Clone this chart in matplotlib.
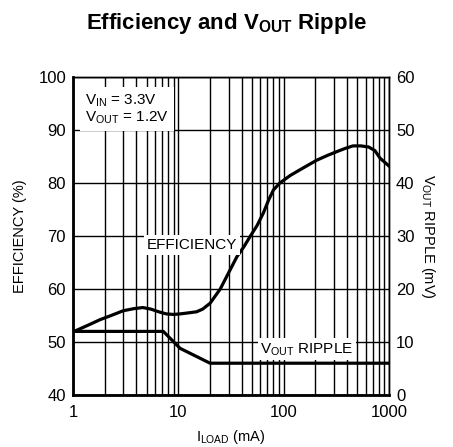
import numpy as np
import matplotlib
matplotlib.use('Agg')
from matplotlib import pyplot as plt
from matplotlib.ticker import FixedLocator, NullFormatter, FixedFormatter

FONT = 'Liberation Sans'
plt.rcParams['font.family'] = [FONT, 'DejaVu Sans']
plt.rcParams['mathtext.fontset'] = 'custom'
plt.rcParams['mathtext.rm'] = FONT
plt.rcParams['mathtext.bf'] = FONT + ':bold'
plt.rcParams['mathtext.it'] = FONT + ':italic'

# efficiency curve (%) vs load current (mA)
eff_load = [1, 1.4, 1.8, 2.3, 3.0, 3.8, 4.6, 5.5, 6.5, 7.7, 9.0, 10.4, 12.5, 14.9, 17, 20, 25,
            31, 36, 42, 48, 56, 64, 72, 80, 92, 115, 143, 175, 206, 260, 318, 380, 455, 540,
            640, 736, 821, 1000]
eff_pct = [51.9, 53.2, 54.2, 55.0, 55.9, 56.3, 56.5, 56.2, 55.7, 55.3, 55.2, 55.3, 55.5, 55.7,
           56.2, 57.3, 60.0, 63.6, 66.1, 68.0, 69.9, 72.0, 74.3, 76.8, 78.7, 80.0, 81.4, 82.5,
           83.5, 84.3, 85.2, 85.9, 86.5, 87.0, 87.0, 86.8, 86.1, 84.7, 83.2]

# output ripple (mV) vs load current (mA)
rip_load = [1, 7.2, 10.4, 20, 1000]
rip_mv = [12, 12, 8.8, 6.0, 6.0]

fig = plt.figure(figsize=(4.53, 4.47), dpi=100)
ax = fig.add_axes([73/453, 1 - 395/447, 316/453, 318/447])
ax2 = ax.twinx()

ax.set_xscale('log')
ax.set_xlim(1, 1000)
ax.set_ylim(40, 100)
ax2.set_ylim(0, 60)

ax.xaxis.set_major_locator(FixedLocator([1, 10, 100, 1000]))
ax.xaxis.set_major_formatter(FixedFormatter(['1', '10', '100', '1000']))
minors = [m * d for d in (1, 10, 100) for m in range(2, 10)]
ax.xaxis.set_minor_locator(FixedLocator(minors))
ax.xaxis.set_minor_formatter(NullFormatter())
ax.set_yticks([40, 50, 60, 70, 80, 90, 100])
ax2.set_yticks([0, 10, 20, 30, 40, 50, 60])

ax.grid(True, which='both', axis='x', color='black', lw=1.0)
ax.grid(True, which='major', axis='y', color='black', lw=1.0)

for a in (ax, ax2):
    a.tick_params(which='both', length=0, labelsize=12, pad=5)
    for s in a.spines.values():
        s.set_color('black')
        s.set_linewidth(1.0)
ax.spines['left'].set_linewidth(2.0)
ax.spines['bottom'].set_linewidth(2.0)
ax.tick_params(axis='x', pad=7)

ax.plot(eff_load, eff_pct, color='black', lw=2.3, zorder=4)
ax2.plot(rip_load, rip_mv, color='black', lw=2.3, zorder=4)

box = dict(facecolor='white', edgecolor='none', pad=2)
ax.text(1.3, 97.0, 'V$_{\\mathrm{IN}}$ = 3.3V\nV$_{\\mathrm{OUT}}$ = 1.2V', fontsize=11,
        va='top', ha='left', linespacing=1.0, zorder=5,
        bbox=dict(facecolor='white', edgecolor='none', pad=4))
ax.text(5.0, 68.3, 'EFFICIENCY', fontsize=11, va='center', ha='left', zorder=5, bbox=box)
ax.text(60, 48.6, 'V$_{\\mathrm{OUT}}$ RIPPLE', fontsize=11, va='center', ha='left',
        zorder=5, bbox=box)

ax.set_xlabel('I$_{\\mathrm{LOAD}}$ (mA)', fontsize=10.5, labelpad=6)
ax.set_ylabel('EFFICIENCY (%)', fontsize=10.5, labelpad=8)
ax2.set_ylabel('V$_{\\mathrm{OUT}}$ RIPPLE (mV)', fontsize=10.5, rotation=-90, labelpad=16)

fig.suptitle('Efficiency and V$_{\\mathbf{OUT}}$ Ripple', fontsize=16, fontweight='bold',
             x=0.5, y=0.975, va='top')

fig.savefig('out.png', dpi=100)
